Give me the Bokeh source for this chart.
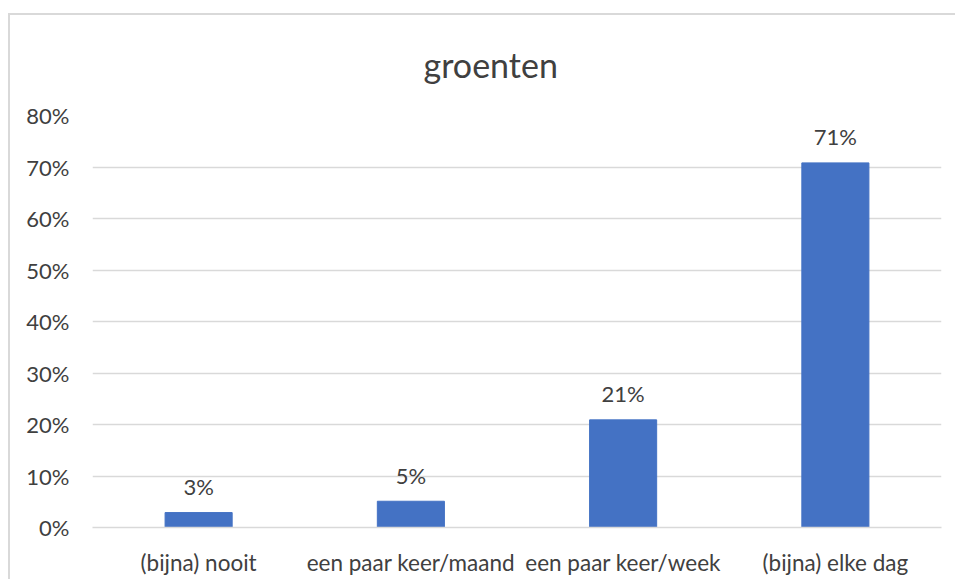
from bokeh.plotting import figure
from bokeh.models import Range1d, LabelSet, ColumnDataSource, NumeralTickFormatter, FixedTicker, Title
from bokeh.embed import file_html
from bokeh.resources import INLINE
from bokeh.core.properties import value

chart_title = "groenten"
categories = ["(bijna) nooit", "een paar keer/maand", "een paar keer/week", "(bijna) elke dag"]
shares = [0.029, 0.051, 0.209, 0.708]
bar_labels = ["3%", "5%", "21%", "71%"]
y_ticks = [0.0, 0.1, 0.2, 0.3, 0.4, 0.5, 0.6, 0.7, 0.8]

FONT = "Lato"
TXT = "#404040"
GRID = "#d9d9d9"
BAR = "#4472C4"

p = figure(
    x_range=categories,
    y_range=Range1d(0, 0.8),
    width=947, height=566,
    output_backend="svg",
    toolbar_location=None,
    margin=(13, 0, 0, 8),
    min_border_left=82, min_border_right=16,
    min_border_top=98, min_border_bottom=54,
)
p.styles = {"border-left": "2px solid #d9d9d9", "border-top": "2px solid #d9d9d9"}
p.outline_line_color = None
p.background_fill_color = "white"
p.border_fill_color = "white"

t = Title(text=chart_title, align="left", offset=331, standoff=57, vertical_align="top",
          text_font=FONT, text_font_size="34px", text_font_style="normal",
          text_color=TXT)
p.title = t

src = ColumnDataSource(dict(cat=categories, share=shares, label=bar_labels))
p.vbar(x="cat", top="share", width=0.316, color=BAR, source=src)

p.add_layout(LabelSet(x="cat", y="share", text="label", source=src,
                      text_align="center", text_baseline="alphabetic", y_offset=17.5,
                      text_font=value(FONT), text_font_size="22px", text_color=TXT))

# y axis
p.yaxis.ticker = FixedTicker(ticks=y_ticks)
p.yaxis.formatter = NumeralTickFormatter(format="0%")
p.yaxis.axis_line_color = None
p.yaxis.major_tick_line_color = None
p.yaxis.minor_tick_line_color = None
p.yaxis.major_tick_out = 0
p.yaxis.major_tick_in = 0
p.yaxis.major_label_standoff = 23
p.yaxis.major_label_text_font = FONT
p.yaxis.major_label_text_font_size = "22px"
p.yaxis.major_label_text_color = TXT

# x axis
p.xaxis.axis_line_color = GRID
p.xaxis.axis_line_width = 1.5
p.xaxis.major_tick_line_color = None
p.xaxis.minor_tick_line_color = None
p.xaxis.major_tick_out = 0
p.xaxis.major_tick_in = 0
p.xaxis.major_label_standoff = 21
p.xaxis.major_label_text_font = FONT
p.xaxis.major_label_text_font_size = "22.5px"
p.xaxis.major_label_text_color = TXT

p.xgrid.grid_line_color = None
p.ygrid.grid_line_color = GRID
p.ygrid.grid_line_width = 1.5

open("out.html", "w").write(file_html(p, INLINE))
